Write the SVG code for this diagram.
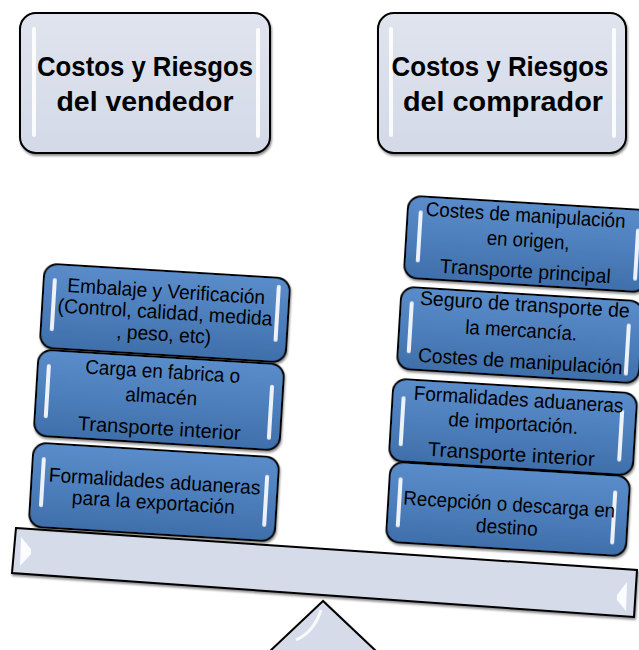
<svg xmlns="http://www.w3.org/2000/svg" width="639" height="650" viewBox="0 0 639 650">
<defs>
<linearGradient id="gBlue" x1="0" y1="0" x2="0" y2="1">
<stop offset="0" stop-color="#5a8cca"/>
<stop offset="0.5" stop-color="#4d7fbc"/>
<stop offset="1" stop-color="#3f6faa"/>
</linearGradient>
<linearGradient id="gTop" x1="0" y1="0" x2="0" y2="1">
<stop offset="0" stop-color="#dfe4ee"/>
<stop offset="1" stop-color="#d3d9e7"/>
</linearGradient>
<filter id="sh" x="-10%" y="-10%" width="120%" height="130%">
<feDropShadow dx="1" dy="2" stdDeviation="1.2" flood-color="#000" flood-opacity="0.45"/>
</filter>
<filter id="bl" x="-50%" y="-20%" width="200%" height="140%">
<feGaussianBlur stdDeviation="0.6"/>
</filter>
</defs>
<style>
.bx{fill:url(#gBlue);stroke:#000;stroke-width:2;filter:url(#sh)}
.tb{fill:url(#gTop);stroke:#000;stroke-width:2;filter:url(#sh)}
.hl{fill:#fff;opacity:0.9;filter:url(#bl)}
.t{font-family:"Liberation Sans",Arial,sans-serif;font-size:20px;text-anchor:middle;fill:#000}
.tt{font-family:"Liberation Sans",Arial,sans-serif;font-size:28px;font-weight:bold;text-anchor:middle;fill:#000}
</style>

<g id="vendedor">
<rect class="tb" x="20" y="13" width="250" height="140" rx="16"/>
<rect class="hl" x="32" y="27" width="4" height="110" rx="2"/>
<rect class="hl" x="256" y="28" width="4" height="110" rx="2"/>
<text class="tt" x="145" y="76" textLength="216" lengthAdjust="spacingAndGlyphs">Costos y Riesgos</text>
<text class="tt" x="145" y="111" textLength="177" lengthAdjust="spacingAndGlyphs">del vendedor</text>
</g>

<g id="comprador">
<rect class="tb" x="378" y="13" width="248" height="140" rx="16"/>
<rect class="hl" x="389" y="27" width="4" height="110" rx="2"/>
<rect class="hl" x="612" y="28" width="4" height="110" rx="2"/>
<text class="tt" x="500" y="76" textLength="217" lengthAdjust="spacingAndGlyphs">Costos y Riesgos</text>
<text class="tt" x="503" y="111" textLength="200" lengthAdjust="spacingAndGlyphs">del comprador</text>
</g>

<g id="fulcro">
<path d="M323,601 L269,652 L377,652 Z" fill="#d5dbe8" stroke="#000" stroke-width="2" filter="url(#sh)"/>
<path d="M321,610 Q314,632 296,640" fill="none" stroke="#fff" stroke-width="3" opacity="0.85" filter="url(#bl)"/>
</g>

<g id="balanza">
<path d="M16,528 L637,570 L634,617 L12,573 Z" fill="#d5dbe8" stroke="#000" stroke-width="2" filter="url(#sh)"/>
<path d="M21,537 L31,549 L31,554 L20,566 Z" fill="#fff" opacity="0.9"/>
<path d="M627,582 L617,595 L617,600 L626,611 Z" fill="#fff" opacity="0.9"/>
</g>

<g id="embalaje" transform="translate(165,313) rotate(3.5)">
<rect class="bx" x="-123" y="-42" width="246" height="84" rx="13"/>
<rect class="hl" x="-114" y="-28" width="4" height="53" rx="2"/>
<rect class="hl" x="110" y="-35" width="4" height="57" rx="2"/>
<text class="t" x="0" y="-15" textLength="198" lengthAdjust="spacingAndGlyphs">Embalaje y Verificación</text>
<text class="t" x="0" y="6" textLength="215" lengthAdjust="spacingAndGlyphs">(Control, calidad, medida</text>
<text class="t" x="0" y="28" textLength="95" lengthAdjust="spacingAndGlyphs">, peso, etc)</text>
</g>

<g id="carga" transform="translate(159,400) rotate(3.5)">
<rect class="bx" x="-123" y="-43" width="246" height="86" rx="13"/>
<rect class="hl" x="-114" y="-29" width="4" height="54" rx="2"/>
<rect class="hl" x="110" y="-22" width="4" height="55" rx="2"/>
<text class="t" x="2" y="-22" textLength="155" lengthAdjust="spacingAndGlyphs">Carga en fabrica o</text>
<text class="t" x="2" y="3" textLength="72" lengthAdjust="spacingAndGlyphs">almacén</text>
<text class="t" x="2" y="35" textLength="163" lengthAdjust="spacingAndGlyphs">Transporte interior</text>
</g>

<g id="formalidades-exp" transform="translate(154,492) rotate(3.5)">
<rect class="bx" x="-123" y="-42" width="246" height="84" rx="13"/>
<rect class="hl" x="-114" y="-28" width="4" height="50" rx="2"/>
<rect class="hl" x="110" y="-24" width="4" height="52" rx="2"/>
<text class="t" x="0" y="-4" textLength="212" lengthAdjust="spacingAndGlyphs">Formalidades aduaneras</text>
<text class="t" x="0" y="17" textLength="163" lengthAdjust="spacingAndGlyphs">para la exportación</text>
</g>

<g id="manipulacion-origen" transform="translate(527,244) rotate(3.5)">
<rect class="bx" x="-121" y="-41" width="242" height="82" rx="13"/>
<rect class="hl" x="-110" y="-27" width="4" height="52" rx="2"/>
<rect class="hl" x="108" y="-22" width="4" height="52" rx="2"/>
<text class="t" x="-3" y="-22" textLength="200" lengthAdjust="spacingAndGlyphs">Costes de manipulación</text>
<text class="t" x="1" y="3" textLength="83" lengthAdjust="spacingAndGlyphs">en origen,</text>
<text class="t" x="0" y="34" textLength="171" lengthAdjust="spacingAndGlyphs">Transporte principal</text>
</g>

<g id="seguro" transform="translate(520,335) rotate(3.5)">
<rect class="bx" x="-121" y="-41" width="242" height="82" rx="13"/>
<rect class="hl" x="-112" y="-27" width="4" height="52" rx="2"/>
<rect class="hl" x="106" y="-18" width="4" height="52" rx="2"/>
<text class="t" x="3" y="-24" textLength="210" lengthAdjust="spacingAndGlyphs">Seguro de transporte de</text>
<text class="t" x="1" y="2" textLength="112" lengthAdjust="spacingAndGlyphs">la mercancía.</text>
<text class="t" x="2" y="33" textLength="205" lengthAdjust="spacingAndGlyphs">Costes de manipulación</text>
</g>

<g id="formalidades-imp" transform="translate(513,427) rotate(3.5)">
<rect class="bx" x="-122" y="-41" width="244" height="82" rx="13"/>
<rect class="hl" x="-113" y="-24" width="4" height="50" rx="2"/>
<rect class="hl" x="106" y="-24" width="4" height="52" rx="2"/>
<text class="t" x="4" y="-21" textLength="210" lengthAdjust="spacingAndGlyphs">Formalidades aduaneras</text>
<text class="t" x="0" y="3" textLength="130" lengthAdjust="spacingAndGlyphs">de importación.</text>
<text class="t" x="0" y="34" textLength="167" lengthAdjust="spacingAndGlyphs">Transporte  interior</text>
</g>

<g id="recepcion" transform="translate(508,509) rotate(3.5)">
<rect class="bx" x="-120" y="-40" width="240" height="80" rx="13"/>
<rect class="hl" x="-111" y="-25" width="4" height="50" rx="2"/>
<rect class="hl" x="104" y="-25" width="4" height="54" rx="2"/>
<text class="t" x="1" y="2" textLength="212" lengthAdjust="spacingAndGlyphs">Recepción o descarga en</text>
<text class="t" x="0" y="25" textLength="62" lengthAdjust="spacingAndGlyphs">destino</text>
</g>
</svg>
